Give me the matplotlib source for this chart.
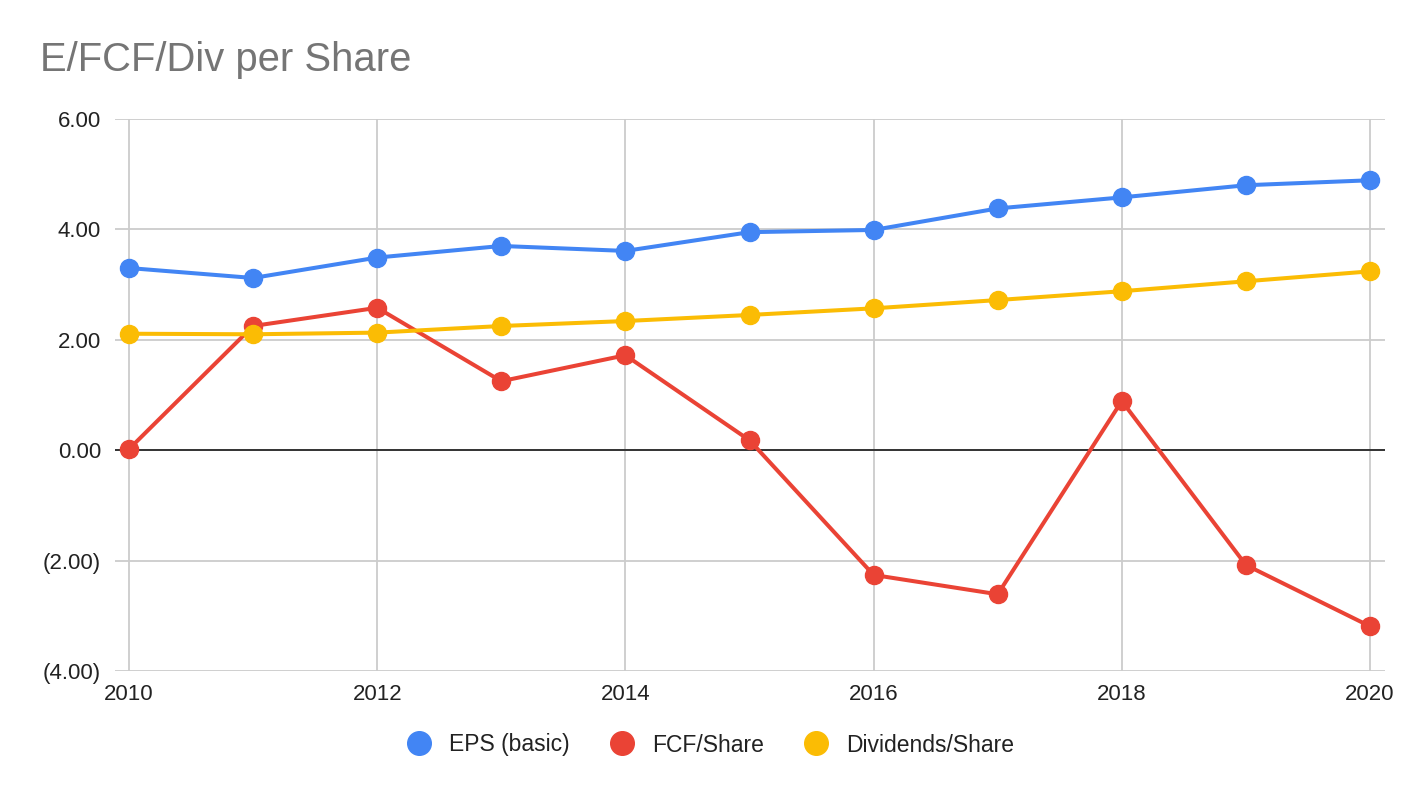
import matplotlib
matplotlib.use("Agg")
import matplotlib.pyplot as plt
from matplotlib.lines import Line2D

plt.rcParams['font.family'] = ['Liberation Sans', 'DejaVu Sans']

years = [2010, 2011, 2012, 2013, 2014, 2015, 2016, 2017, 2018, 2019, 2020]
eps = [3.30, 3.12, 3.49, 3.70, 3.61, 3.95, 3.99, 4.38, 4.58, 4.80, 4.89]
fcf = [0.02, 2.25, 2.58, 1.25, 1.72, 0.18, -2.26, -2.61, 0.89, -2.08, -3.19]
div = [2.11, 2.10, 2.13, 2.25, 2.34, 2.45, 2.57, 2.72, 2.88, 3.06, 3.24]
series_names = ["EPS (basic)", "FCF/Share", "Dividends/Share"]
colors = ["#4285F4", "#EA4335", "#FBBC04"]
yticks = [-4, -2, 0, 2, 4, 6]
ytick_labels = ["(4.00)", "(2.00)", "0.00", "2.00", "4.00", "6.00"]
xticks = [2010, 2012, 2014, 2016, 2018, 2020]

fig = plt.figure(figsize=(14.24, 7.98), dpi=100)
ax = fig.add_axes([115/1424, 127/798, 1270/1424, 552/798])

for vals, c, name in zip([eps, fcf, div], colors, series_names):
    ax.plot(years, vals, color=c, lw=2.9, marker='o', ms=13, label=name,
            zorder=3, solid_capstyle='round')

ax.set_xlim(2010 - 14/124.1, 2020 + 15/124.1)
ax.set_ylim(-4, 6)
ax.set_yticks(yticks)
ax.set_yticklabels(ytick_labels)
ax.set_xticks(xticks)
ax.set_xticklabels([str(x) for x in xticks])
ax.grid(True, color="#cccccc", lw=1.3, zorder=0)
ax.axhline(0, color="#333333", lw=1.4, zorder=2)
for s in ax.spines.values():
    s.set_visible(False)
ax.tick_params(axis='both', length=0, labelsize=16, colors="#222222")
ax.tick_params(axis='y', pad=10)
ax.tick_params(axis='x', pad=9)

fig.text(40/1424, 1 - 60/798, "E/FCF/Div per Share", fontsize=28.8,
         color="#757575", va='center', ha='left')

handles = [Line2D([], [], ls='none', marker='o', ms=17, color=c) for c in colors]
fig.legend(handles, series_names, loc='center', bbox_to_anchor=(705/1424, 1 - 745/798),
           ncol=3, frameon=False, fontsize=16.5, handletextpad=0.3, columnspacing=1.3,
           labelcolor="#222222")

fig.savefig("out.png", dpi=100, facecolor="white")
